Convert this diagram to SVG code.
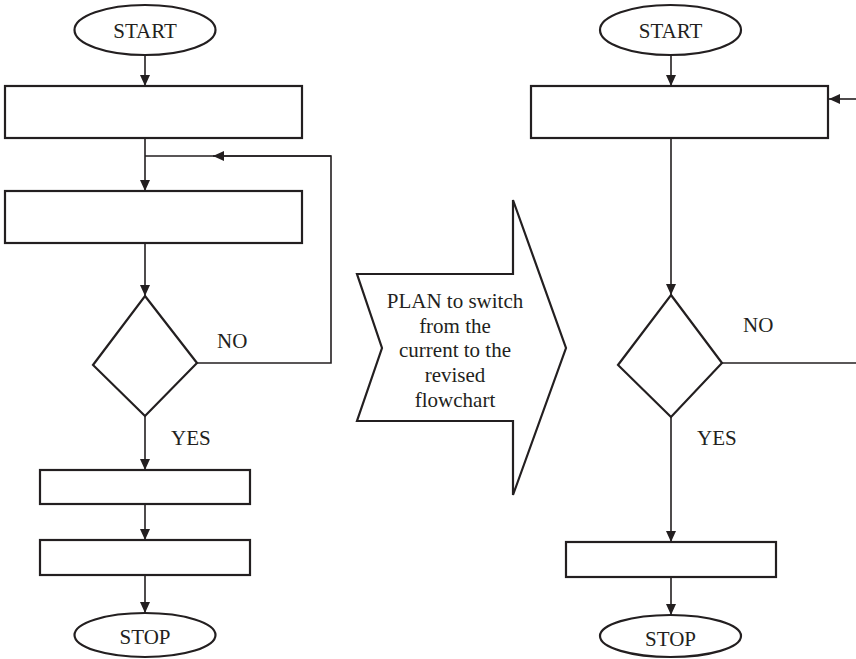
<svg xmlns="http://www.w3.org/2000/svg" width="856" height="659" viewBox="0 0 856 659">
  <defs>
    <marker id="arrow" viewBox="0 0 11 11" refX="11" refY="5.5" markerWidth="11" markerHeight="11" markerUnits="userSpaceOnUse" orient="auto">
      <path d="M0,0.5 L11,5.5 L0,10.5 Z" fill="#231f20"/>
    </marker>
  </defs>
  <style>
    .shape { fill: #ffffff; stroke: #231f20; stroke-width: 2.2; }
    .line { fill: none; stroke: #231f20; stroke-width: 1.6; }
    .arr { marker-end: url(#arrow); }
    text { font-family: "Liberation Serif", "Times New Roman", serif; font-size: 21px; fill: #231f20; }
    .c { text-anchor: middle; }
  </style>
  <rect width="856" height="659" fill="#ffffff"/>

  <!-- current flowchart -->
  <g id="left-start"><ellipse class="shape" cx="145" cy="30" rx="70.5" ry="25"/><text class="c" x="145" y="38">START</text></g>
  <g id="left-step1"><rect class="shape" x="5" y="86" width="297" height="52"/></g>
  <g id="left-step2"><rect class="shape" x="5" y="191" width="297" height="52"/></g>
  <g id="left-decision"><polygon class="shape" points="145,296 197,363 145,416 93,365"/></g>
  <g id="left-step3"><rect class="shape" x="40" y="470" width="210" height="34"/></g>
  <g id="left-step4"><rect class="shape" x="40" y="540" width="210" height="35"/></g>
  <g id="left-stop"><ellipse class="shape" cx="145" cy="635" rx="70.5" ry="22"/><text class="c" x="145" y="644">STOP</text></g>

  <!-- transition arrow -->
  <g id="plan">
    <polygon class="shape" points="357,274 513,274 513,200 566,348 513,495 513,421 357,421 382,348"/>
    <text class="c" x="455" y="308">PLAN to switch</text>
    <text class="c" x="455" y="333">from the</text>
    <text class="c" x="455" y="357">current to the</text>
    <text class="c" x="455" y="382">revised</text>
    <text class="c" x="455" y="407">flowchart</text>
  </g>

  <!-- revised flowchart -->
  <g id="right-start"><ellipse class="shape" cx="670.5" cy="30" rx="70.5" ry="25"/><text class="c" x="670.5" y="38">START</text></g>
  <g id="right-step1"><rect class="shape" x="531" y="86" width="297" height="52"/></g>
  <g id="right-decision"><polygon class="shape" points="671,295 722,363 671,417 618,365"/></g>
  <g id="right-step2"><rect class="shape" x="566" y="542" width="210" height="35"/></g>
  <g id="right-stop"><ellipse class="shape" cx="670.5" cy="636" rx="70.5" ry="21"/><text class="c" x="670.5" y="646">STOP</text></g>

  <g id="connectors">
    <!-- current -->
    <line class="line arr" x1="145" y1="55" x2="145" y2="86"/>
    <line class="line arr" x1="145" y1="138" x2="145" y2="191"/>
    <line class="line arr" x1="145" y1="243" x2="145" y2="296"/>
    <polyline class="line" points="197,363 331,363 331,156 145,156"/>
    <line class="line arr" x1="331" y1="156" x2="213" y2="156"/>
    <line class="line arr" x1="145" y1="416" x2="145" y2="470"/>
    <line class="line arr" x1="145" y1="504" x2="145" y2="540"/>
    <line class="line arr" x1="145" y1="575" x2="145" y2="613"/>
    <!-- revised -->
    <line class="line arr" x1="671" y1="55" x2="671" y2="86"/>
    <line class="line arr" x1="856" y1="99" x2="829" y2="99"/>
    <line class="line arr" x1="671" y1="138" x2="671" y2="295"/>
    <line class="line" x1="722" y1="363" x2="856" y2="363"/>
    <line class="line arr" x1="671" y1="417" x2="671" y2="542"/>
    <line class="line arr" x1="671" y1="577" x2="671" y2="615"/>
  </g>

  <g id="labels">
    <text x="217" y="348">NO</text>
    <text x="171" y="445">YES</text>
    <text x="743" y="332">NO</text>
    <text x="697" y="445">YES</text>
  </g>
</svg>
